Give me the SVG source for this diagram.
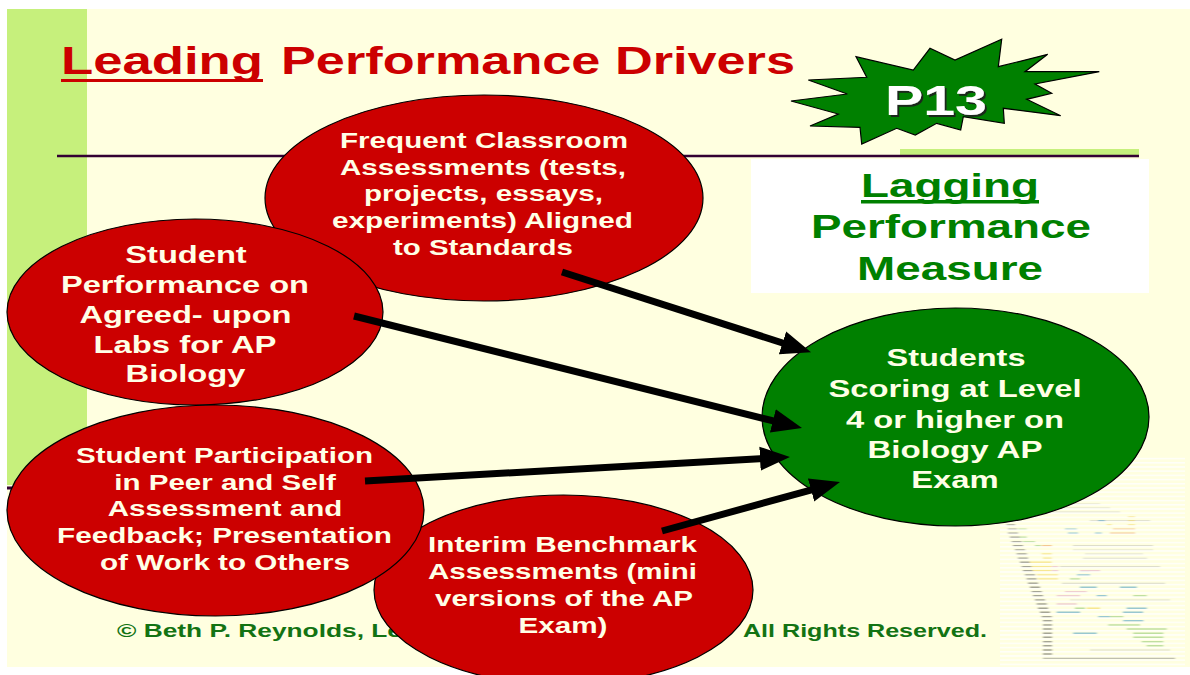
<svg xmlns="http://www.w3.org/2000/svg" width="1190" height="675" viewBox="0 0 1190 675">
<style>
.t{font-family:"Liberation Sans",Arial,sans-serif;font-weight:bold}
.et{fill:#FFFFE6;text-anchor:middle}
.red{fill:#CC0000;stroke:#000;stroke-width:1.2}
.grn{fill:#008000;stroke:#000;stroke-width:1.2}
.gtx{fill:#008000;text-anchor:middle}
.conn{stroke:#000;stroke-width:7;fill:none;marker-end:url(#ah)}
.dk{stroke:#4a4a4a;stroke-width:1.4;opacity:.5}
.lg{stroke:#bdbdb5;stroke-width:1.2;opacity:.5}
</style>
<defs>
<marker id="ah" markerUnits="userSpaceOnUse" viewBox="0 0 30 26" markerWidth="30" markerHeight="26" refX="10" refY="13" orient="auto">
<path d="M0,1 L30,13 L0,25 z" fill="#000"/>
</marker>
<filter id="sh" x="-10%" y="-10%" width="130%" height="140%">
<feDropShadow dx="2" dy="2" stdDeviation="0.6" flood-color="#1a1a1a" flood-opacity="0.9"/>
</filter>
<filter id="blur" x="-5%" y="-5%" width="110%" height="110%">
<feGaussianBlur stdDeviation="1.2 0.3"/>
</filter>
<pattern id="stripes" patternUnits="userSpaceOnUse" width="10" height="4.2">
<rect x="0" y="0" width="10" height="1.5" fill="#ffffff"/>
</pattern>
</defs>

<!-- background -->
<rect width="1190" height="675" fill="#ffffff"/>
<rect x="7" y="9" width="1183" height="658" fill="#FFFFE0"/>
<rect x="7" y="9" width="80" height="476" fill="#C6F07C"/>
<line x1="7" y1="488" x2="60" y2="488" stroke="#330033" stroke-width="3"/>
<rect x="900" y="149" width="239" height="6" fill="#C6F07C"/>
<line x1="57" y1="156" x2="1139" y2="156" stroke="#330033" stroke-width="2.5"/>

<!-- title -->
<g id="title">
<text class="t" x="61" y="74" font-size="38" fill="#CC0000" textLength="202" lengthAdjust="spacingAndGlyphs">Leading</text>
<rect x="61" y="79" width="202" height="3" fill="#CC0000"/>
<text class="t" x="281" y="74" font-size="38" fill="#CC0000" textLength="514" lengthAdjust="spacingAndGlyphs">Performance Drivers</text>
</g>

<!-- star P13 -->
<g id="p13">
<polygon points="791,101 847.3,94 808.3,80 866.7,77.3 856,56.7 913.3,70 930,48.3 955,60 1001.7,39.3 998.3,66.7 1047.7,54.3 1025,71.7 1099.3,71.7 1035,84 1051.7,93.3 1026.7,99.3 1060.7,115.7 1003.3,108.3 1004.3,123.3 963.3,116.7 960.7,130 936.7,123.3 915.3,135 896.7,128.3 861.7,144 860,127.3 810,126 838.3,114" fill="#008000" stroke="#000" stroke-width="1.2"/>
<text class="t" x="885" y="115" font-size="43" fill="#ffffff" filter="url(#sh)" textLength="102" lengthAdjust="spacingAndGlyphs">P13</text>
</g>

<!-- lagging box -->
<g id="lagging">
<rect x="751" y="159" width="398" height="134" fill="#ffffff"/>
<text class="t gtx" x="950" y="196.7" font-size="33" textLength="178" lengthAdjust="spacingAndGlyphs">Lagging</text>
<rect x="861" y="200" width="178" height="3.5" fill="#008000"/>
<text class="t gtx" x="951" y="238.3" font-size="33" textLength="280" lengthAdjust="spacingAndGlyphs">Performance</text>
<text class="t gtx" x="950" y="280" font-size="33" textLength="186" lengthAdjust="spacingAndGlyphs">Measure</text>
</g>

<!-- faint thumbnail picture -->
<g id="thumb">
<g filter="url(#blur)">
<path class="lg" d="M1073,545.7H1153M1073,550H1153M1085,554H1143M1083,558.3H1147M1040,512H1120M1050,508H1110M1060,504H1100M1090,520.7H1150M1060,566.7H1160M1062,583.3H1165M1070,600H1170M1090,650H1170"/>
<path class="dk" d="M1006.7,525H1015M1008,529.3H1017M1008,533.3H1018M1010,537.3H1020M1011.7,541.7H1021.7M1013,545.7H1023M1015,550H1025M1016.7,554H1026.7M1018,558.3H1028M1020,562.3H1030M1021.7,566.7H1031.7M1023,570.7H1033M1025,575H1035M1026.7,579H1036.7M1028,583.3H1038M1030,587.3H1040M1031.7,591.7H1041.7M1033,595.7H1043M1035,600H1045M1036.7,604H1046.7M1038,608.3H1048M1040,612.3H1050M1041.7,616.7H1051.7M1043,620.7H1052M1043,625H1052M1043,629H1052M1043,633.3H1052M1043,637.3H1052M1043,641.7H1052M1043,645.7H1052M1043,650H1052M1043,654H1052"/>
<line x1="1043" y1="658.3" x2="1175" y2="658.3" stroke="#8a8a85" stroke-width="1.2" opacity="0.55"/>
<g stroke-width="1.6" opacity="0.5" fill="none">
<path stroke="#F0D040" d="M1128,516.7H1135M1128,520.7H1135M1128,525H1135M1106.7,525H1111.7M1041.7,554H1051.7M1043,558.3H1051.7M1030,562.3H1051.7M1031.7,566.7H1051.7M1033,570.7H1051.7M1036.7,575H1058M1038,579H1058M1086.7,608.3H1100"/>
<path stroke="#E89040" d="M1113,529.3H1135M1110,533.3H1135M1041.7,545.7H1051.7"/>
<path stroke="#3090C0" d="M1098,520.7H1105M1095,533.3H1101.7M1065,529.3H1076.7M1068,533.3H1078M1080,570.7H1090M1077,575H1090M1080,587.3H1096.7M1120,587.3H1136.7M1096.7,595.7H1106.7M1126.7,608.3H1146.7M1056.7,612.3H1080M1123,612.3H1143M1098.3,616.7H1110M1123.3,620.7H1143.3M1073.3,633.3H1096.7"/>
<path stroke="#80C060" d="M1018,529.3H1026.7M1020,537.3H1026.7M1023,541.7H1035M1035,545.7H1041M1070,579H1080M1133.3,595.7H1146.7M1075,608.3H1085M1110,616.7H1123.3M1108.3,625H1140M1126.7,629H1166.7M1133.3,633.3H1163.3M1133.3,637.3H1163.3M1141.7,641.7H1163.3M1146.7,645.7H1163.3"/>
<path stroke="#E0A0C0" d="M1051.7,566.7H1058.3M1051.7,570.7H1058.3M1080,570.7H1100M1065,591.7H1086.7M1056.7,595.7H1080M1056.7,604H1076.7"/>
</g>
</g>
<rect x="1000" y="457" width="185" height="213" fill="url(#stripes)" opacity="0.8"/>
</g>

<!-- footer -->
<g id="footer">
<text class="t" x="117" y="637" font-size="19" fill="#137313" textLength="285" lengthAdjust="spacingAndGlyphs">© Beth P. Reynolds, Le</text>
<text class="t" x="743" y="637" font-size="19" fill="#137313" textLength="244" lengthAdjust="spacingAndGlyphs">All Rights Reserved.</text>
</g>

<!-- nodes -->
<g id="n1">
<ellipse class="red" cx="484" cy="198" rx="219" ry="103"/>
<text class="t et" font-size="22" x="484" y="147.7" textLength="288" lengthAdjust="spacingAndGlyphs">Frequent Classroom</text>
<text class="t et" font-size="22" x="483" y="174.5" textLength="286" lengthAdjust="spacingAndGlyphs">Assessments (tests,</text>
<text class="t et" font-size="22" x="483.5" y="201" textLength="239" lengthAdjust="spacingAndGlyphs">projects, essays,</text>
<text class="t et" font-size="22" x="482.5" y="227.7" textLength="301" lengthAdjust="spacingAndGlyphs">experiments) Aligned</text>
<text class="t et" font-size="22" x="483" y="255" textLength="180" lengthAdjust="spacingAndGlyphs">to Standards</text>
</g>

<g id="n2">
<ellipse class="red" cx="195" cy="312" rx="188" ry="93"/>
<text class="t et" font-size="24" x="186" y="263" textLength="121.5" lengthAdjust="spacingAndGlyphs">Student</text>
<text class="t et" font-size="24" x="185" y="292.7" textLength="248" lengthAdjust="spacingAndGlyphs">Performance on</text>
<text class="t et" font-size="24" x="185.5" y="322.7" textLength="212" lengthAdjust="spacingAndGlyphs">Agreed- upon</text>
<text class="t et" font-size="24" x="185" y="352.7" textLength="183" lengthAdjust="spacingAndGlyphs">Labs for AP</text>
<text class="t et" font-size="24" x="185.5" y="381.7" textLength="120" lengthAdjust="spacingAndGlyphs">Biology</text>
</g>

<g id="n5">
<ellipse class="red" cx="563.5" cy="590" rx="189.5" ry="95"/>
<text class="t et" font-size="22" x="562.5" y="551.5" textLength="269" lengthAdjust="spacingAndGlyphs">Interim Benchmark</text>
<text class="t et" font-size="22" x="562.5" y="578.5" textLength="269" lengthAdjust="spacingAndGlyphs">Assessments (mini</text>
<text class="t et" font-size="22" x="564" y="605.5" textLength="258" lengthAdjust="spacingAndGlyphs">versions of the AP</text>
<text class="t et" font-size="22" x="563" y="632.5" textLength="89" lengthAdjust="spacingAndGlyphs">Exam)</text>
</g>

<g id="n4">
<ellipse class="red" cx="215.5" cy="510.5" rx="208.5" ry="105.5"/>
<text class="t et" font-size="22" x="224.5" y="463.3" textLength="297" lengthAdjust="spacingAndGlyphs">Student Participation</text>
<text class="t et" font-size="22" x="225" y="489.5" textLength="221.5" lengthAdjust="spacingAndGlyphs">in Peer and Self</text>
<text class="t et" font-size="22" x="225" y="516" textLength="234.5" lengthAdjust="spacingAndGlyphs">Assessment and</text>
<text class="t et" font-size="22" x="224.5" y="542.7" textLength="335" lengthAdjust="spacingAndGlyphs">Feedback; Presentation</text>
<text class="t et" font-size="22" x="225" y="570" textLength="250" lengthAdjust="spacingAndGlyphs">of Work to Others</text>
</g>

<g id="n6">
<ellipse class="grn" cx="955.5" cy="417" rx="193.5" ry="109"/>
<text class="t et" font-size="23" x="956" y="366" textLength="139" lengthAdjust="spacingAndGlyphs">Students</text>
<text class="t et" font-size="23" x="955" y="397" textLength="253" lengthAdjust="spacingAndGlyphs">Scoring at Level</text>
<text class="t et" font-size="23" x="955" y="427.5" textLength="218" lengthAdjust="spacingAndGlyphs">4 or higher on</text>
<text class="t et" font-size="23" x="955" y="457.5" textLength="175" lengthAdjust="spacingAndGlyphs">Biology AP</text>
<text class="t et" font-size="23" x="955" y="488" textLength="87.5" lengthAdjust="spacingAndGlyphs">Exam</text>
</g>

<!-- connectors -->
<g id="connectors">
<path class="conn" d="M562,272 L792,346"/>
<path class="conn" d="M354,316 L782.6,423.2"/>
<path class="conn" d="M365,481 L770,458.1"/>
<path class="conn" d="M662,531 L820.7,487.3"/>
</g>
</svg>
